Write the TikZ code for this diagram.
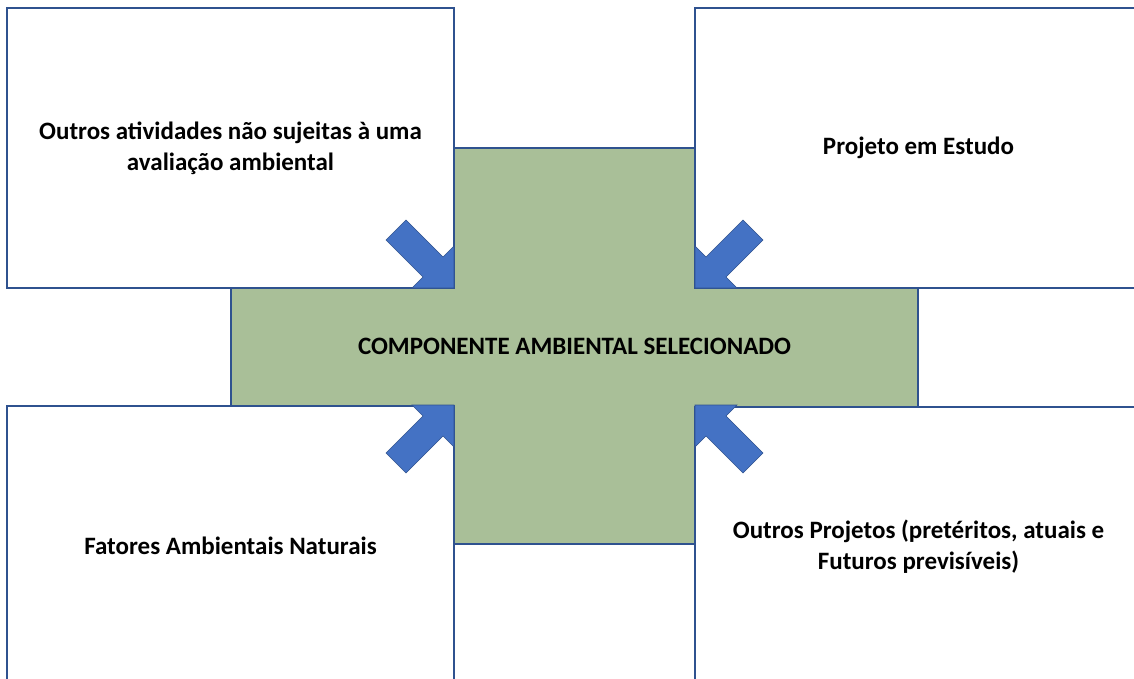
\documentclass[tikz,border=0pt]{standalone}
\usepackage{fontspec}
\setmainfont{Carlito}
\definecolor{boxLine}{RGB}{47,82,143}
\definecolor{compG}{RGB}{169,191,152}
\definecolor{arrB}{RGB}{68,114,196}

\begin{document}
\begin{tikzpicture}[x=1pt,y=-1pt,
  txt/.style={font=\fontsize{25}{31}\selectfont\bfseries,align=center,text=black},
  box/.style={txt,draw=boxLine,line width=1.2pt,fill=white,minimum width=447pt,minimum height=280pt,inner sep=0pt},
  comp/.style={txt,draw=boxLine,line width=1.2pt,fill=compG,minimum width=687pt,minimum height=396pt,inner sep=0pt},
  blk/.style={fill=arrB,draw=boxLine,line width=0.6pt,line join=miter}]
\clip (0,0) rectangle (1134,679);
\fill[white] (0,0) rectangle (1134,679);
% centre
\node[comp] (comp) at (574.5,346) {COMPONENTE AMBIENTAL SELECIONADO};
% the four boxes
\node[box] (outras) at (230.5,148) {Outros atividades não sujeitas à uma\\avaliação ambiental};
\node[box] (proj) at (918.5,148) {Projeto em Estudo};
\node[box] (fat) at (230.5,546) {Fatores Ambientais Naturais};
\node[box] (fut) at (918.5,547) {Outros Projetos (pretéritos, atuais e\\Futuros previsíveis)};
% block arrows pointing at the corners
\foreach \tx/\ty/\sx/\sy in {454/288/1/1, 695/288/-1/1, 454/405/1/-1, 695/405/-1/-1}{
  \begin{scope}[shift={(\tx,\ty)},xscale=\sx,yscale=\sy]
    \draw[blk] (0,0) -- (0,-42) -- (-11,-31) -- (-48,-68) -- (-68,-48) -- (-31,-11) -- (-42,0) -- cycle;
  \end{scope}
}
\end{tikzpicture}
\end{document}
